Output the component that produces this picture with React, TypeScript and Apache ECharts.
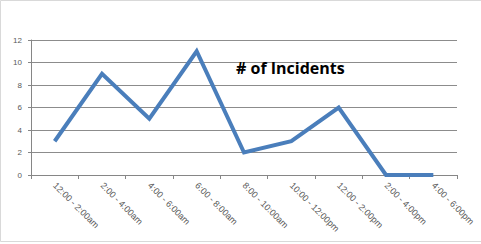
import React, { useEffect, useRef } from "react";
import * as echarts from "echarts";

const categories = [
  "12:00 - 2:00am",
  "2:00 - 4:00am",
  "4:00 - 6:00am",
  "6:00 - 8:00am",
  "8:00 - 10:00am",
  "10:00 - 12:00pm",
  "12:00 - 2:00pm",
  "2:00 - 4:00pm",
  "4:00 - 6:00pm",
];
const incidents = [3, 9, 5, 11, 2, 3, 6, 0, 0];
const seriesName = "# of Incidents";

export default function App() {
  const ref = useRef<HTMLDivElement>(null);
  useEffect(() => {
    if (!ref.current) return;
    const chart = echarts.init(ref.current, undefined, { renderer: "svg" });
    chart.setOption({
      animation: false,
      backgroundColor: "#ffffff",
      title: {
        text: seriesName,
        left: 236,
        top: 60,
        padding: 0,
        textStyle: {
          fontFamily: "Open Sans",
          fontWeight: "bold",
          fontSize: 16,
          color: "#000000",
        },
      },
      graphic: [
        {
          type: "rect",
          shape: { x: 0.5, y: 0.5, width: 481, height: 241 },
          style: { fill: "none", stroke: "#d9d9d9", lineWidth: 1 },
          silent: true,
        },
      ],
      grid: { left: 31, right: 24, top: 40, bottom: 69 },
      xAxis: {
        type: "category",
        data: categories,
        boundaryGap: true,
        axisLine: { lineStyle: { color: "#868686", width: 1 } },
        axisTick: { show: true, length: 4, alignWithLabel: false, lineStyle: { color: "#868686" } },
        axisLabel: {
          rotate: -45,
          interval: 0,
          fontSize: 9,
          color: "#595959",
          fontFamily: "Liberation Sans",
          margin: 9,
        },
      },
      yAxis: {
        type: "value",
        min: 0,
        max: 12,
        interval: 2,
        axisLine: { show: true, lineStyle: { color: "#868686", width: 1 } },
        axisTick: { show: true, length: 3, lineStyle: { color: "#868686" } },
        splitLine: { lineStyle: { color: "#8c8c8c", width: 1 } },
        axisLabel: {
          fontSize: 8,
          color: "#595959",
          fontFamily: "Liberation Sans",
          margin: 9,
        },
      },
      series: [
        {
          name: seriesName,
          type: "line",
          data: incidents,
          symbol: "none",
          lineStyle: { color: "#4a7ebb", width: 4, join: "miter" },
          itemStyle: { color: "#4a7ebb" },
        },
      ],
    });
    return () => chart.dispose();
  }, []);
  return (
    <div
      ref={ref}
      style={{ position: "fixed", left: 0, top: 0, width: 481, height: 244 }}
    />
  );
}
